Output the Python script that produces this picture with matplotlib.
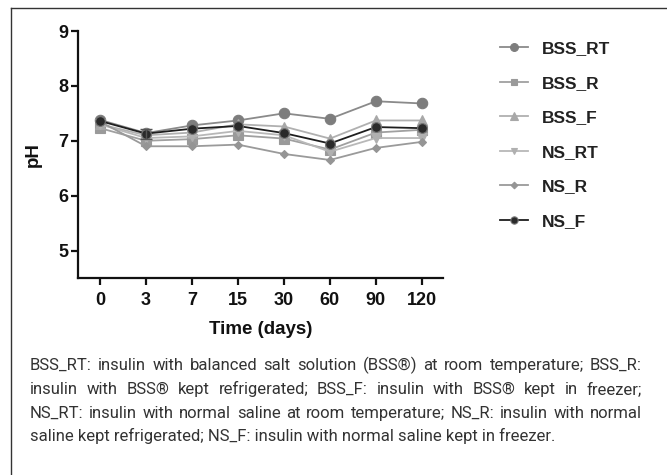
import matplotlib
matplotlib.use("Agg")
import matplotlib.pyplot as plt
import numpy as np
from matplotlib.lines import Line2D

days = ["0", "3", "7", "15", "30", "60", "90", "120"]
BSS_RT = [7.38, 7.14, 7.28, 7.37, 7.50, 7.40, 7.72, 7.68]
BSS_R = [7.23, 7.00, 7.03, 7.10, 7.04, 6.84, 7.15, 7.20]
BSS_F = [7.30, 7.10, 7.15, 7.30, 7.26, 7.04, 7.37, 7.37]
NS_RT = [7.30, 7.05, 7.08, 7.18, 7.10, 6.80, 7.05, 7.05]
NS_R = [7.35, 6.90, 6.90, 6.93, 6.76, 6.65, 6.87, 6.98]
NS_F = [7.36, 7.13, 7.22, 7.27, 7.14, 6.95, 7.25, 7.23]
NS_F_err = [0, 0.09, 0, 0, 0, 0, 0, 0]

series_names = ["BSS_RT", "BSS_R", "BSS_F", "NS_RT", "NS_R", "NS_F"]
series_vals = [BSS_RT, BSS_R, BSS_F, NS_RT, NS_R, NS_F]

caption_lines = [
    "BSS_RT: insulin with balanced salt solution (BSS®) at room temperature; BSS_R:",
    "insulin with BSS® kept refrigerated; BSS_F: insulin with BSS® kept in freezer;",
    "NS_RT: insulin with normal saline at room temperature; NS_R: insulin with normal",
    "saline kept refrigerated; NS_F: insulin with normal saline kept in freezer.",
]

styles = [
    dict(color="#8a8a8a", marker="o", ms=7.5, mfc="#7d7d7d", mec="#7d7d7d"),
    dict(color="#a0a0a0", marker="s", ms=6.5, mfc="#9a9a9a", mec="#9a9a9a"),
    dict(color="#b0b0b0", marker="^", ms=7.5, mfc="#a8a8a8", mec="#a8a8a8"),
    dict(color="#b8b8b8", marker="v", ms=6.5, mfc="#b0b0b0", mec="#b0b0b0"),
    dict(color="#9a9a9a", marker="D", ms=4.5, mfc="#959595", mec="#959595"),
    dict(color="#1e1e1e", marker="o", ms=7, mfc="#2a2a2a", mec="#777777"),
]

W, H = 667, 475
fig = plt.figure(figsize=(W / 100, H / 100), dpi=100)
fig.patch.set_facecolor("white")

# outer frame (left and top edges visible)
fig.add_artist(Line2D([11 / W, 11 / W], [0, 1 - 8 / H], transform=fig.transFigure,
                      color="#333333", lw=1.0))
fig.add_artist(Line2D([11 / W, 1], [1 - 8 / H, 1 - 8 / H], transform=fig.transFigure,
                      color="#333333", lw=1.0))

ax = fig.add_axes([78 / W, 1 - 278 / H, (443 - 78) / W, (278 - 31) / H])
x = np.arange(len(days))
handles = []
for name, vals, st in zip(series_names, series_vals, styles):
    h, = ax.plot(x, vals, color=st["color"], lw=1.3, marker=st["marker"],
                 ms=st["ms"], mfc=st["mfc"], mec=st["mec"], mew=0.8, label=name)
    handles.append(h)

err = np.array(NS_F_err)
mask = err > 0
ax.errorbar(x[mask], np.array(NS_F)[mask], yerr=err[mask], fmt="none",
            ecolor="#555555", elinewidth=1.0, capsize=4, capthick=1.0)

ax.set_xlim(-0.48, 7.46)
ax.set_ylim(4.5, 9)
ax.set_yticks([5, 6, 7, 8, 9])
ax.set_xticks(x)
ax.set_xticklabels(days)
for s in ["top", "right"]:
    ax.spines[s].set_visible(False)
for s in ["left", "bottom"]:
    ax.spines[s].set_linewidth(1.6)
    ax.spines[s].set_color("#111111")
ax.tick_params(axis="both", direction="out", length=5, width=1.6, color="#111111",
               labelsize=13)
ax.tick_params(axis="x", pad=5)
ax.tick_params(axis="y", pad=2)
for lab in ax.get_xticklabels() + ax.get_yticklabels():
    lab.set_fontweight("bold")
    lab.set_fontfamily(["Liberation Sans", "DejaVu Sans"])
    lab.set_color("#111111")
ax.set_xlabel("Time (days)", fontsize=13.5, fontweight="bold",
              family=["Liberation Sans", "DejaVu Sans"], labelpad=9, color="#111111")
ax.set_ylabel("pH", fontsize=13.5, fontweight="bold",
              family=["Liberation Sans", "DejaVu Sans"], labelpad=12, color="#111111")

leg = fig.legend(handles=handles, loc="upper left",
                 bbox_to_anchor=(500 / W, 1 - 41 / H), frameon=False,
                 prop=dict(family=["Liberation Sans", "DejaVu Sans"], weight="bold", size=12.5),
                 handlelength=1.6, handletextpad=0.8, labelspacing=1.12,
                 borderpad=0, borderaxespad=0, markerscale=0.75)
for t in leg.get_texts():
    t.set_color("#222222")

# justified caption
cap_family = ["Liberation Sans Narrow", "Roboto", "DejaVu Sans"]
cap_size = 12
left_px, right_px = 30, 642
line_base = [370, 394, 418, 441]
fig.canvas.draw()
renderer = fig.canvas.get_renderer()
for i, (line, yy) in enumerate(zip(caption_lines, line_base)):
    words = line.split(" ")
    yf = 1 - yy / H
    if i == len(caption_lines) - 1:
        fig.text(left_px / W, yf, line, family=cap_family, size=cap_size,
                 color="#333333", va="baseline", ha="left")
        continue
    texts = []
    widths = []
    for w in words:
        t = fig.text(0, yf, w, family=cap_family, size=cap_size, color="#333333",
                     va="baseline", ha="left")
        bb = t.get_window_extent(renderer=renderer)
        texts.append(t)
        widths.append(bb.width)
    total = sum(widths)
    gap = (right_px - left_px - total) / (len(words) - 1)
    pos = left_px
    for t, wd in zip(texts, widths):
        t.set_x(pos / W)
        pos += wd + gap

fig.savefig("out.png", dpi=100)
